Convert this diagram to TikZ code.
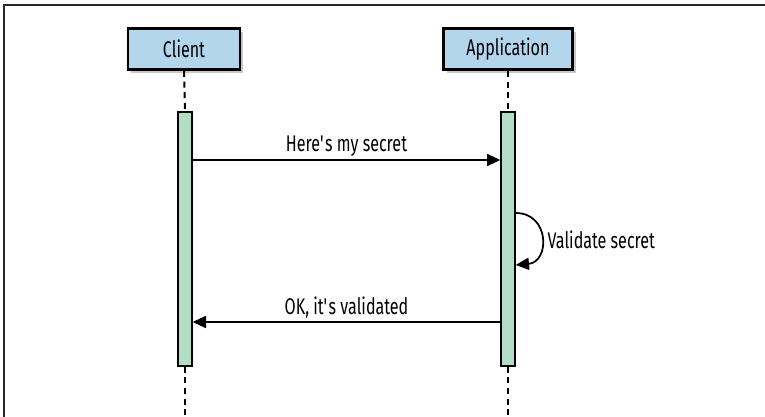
\documentclass[tikz,border=0pt]{standalone}
\usepackage{fontspec}
\setmainfont[FakeStretch=0.71]{Fira Sans}
\usetikzlibrary{arrows.meta,shadows}
\definecolor{actorblue}{RGB}{180,214,236}
\definecolor{barGreen}{RGB}{178,222,199}
\definecolor{frameGray}{RGB}{40,40,40}
\tikzset{
  actor/.style={draw=black, line width=1.8pt, fill=actorblue, minimum width=84pt, minimum height=31pt,
    inner sep=0pt, font=\fontsize{17}{19}\selectfont,
    drop shadow={shadow xshift=2.5pt, shadow yshift=-2.5pt, opacity=0.22, fill=black}},
  lifebar/.style={draw=black, line width=1.5pt, fill=barGreen, minimum width=10pt, inner sep=0pt},
  lifeline/.style={line width=1.5pt, dash pattern=on 4.5pt off 3.5pt},
  msg/.style={line width=1.3pt, -{Triangle[length=10pt,width=9pt]}},
  msglabel/.style={font=\fontsize{17}{19}\selectfont, inner sep=1pt}
}
\begin{document}
\begin{tikzpicture}[x=0.75pt, y=-0.75pt]
\useasboundingbox (0,0) rectangle (765,417);
% outer frame (top and left edges)
\draw[frameGray, line width=1.6pt] (4,417) -- (4,5) -- (765,5);
% participants
\node[actor] (client) at (184,49) {Client};
\node[actor, minimum width=97pt] (app) at (508,49) {Application};
% activation bars
\node[lifebar, minimum height=190pt] (cbar) at (185,239) {};
\node[lifebar, minimum height=190pt] (abar) at (508,239) {};
% bottom ends of the lifelines
\coordinate (cend) at (185,417);
\coordinate (aend) at (508,417);
% lifelines
\draw[lifeline] (client.south) -- (cbar.north);
\draw[lifeline] (app.south) -- (abar.north);
\draw[lifeline] (cbar.south) -- (cend);
\draw[lifeline] (abar.south) -- (aend);
% messages
\draw[msg] (cbar.east |- 0,160) -- node[msglabel, above=1pt] {Here\textquotesingle s my secret} (abar.west |- 0,160);
\coordinate (vs) at (abar.east |- 0,213);
\coordinate (ve) at (abar.east |- 0,265);
\draw[msg] (vs) .. controls (550,213) and (550,262) .. (ve);
\node[msglabel, anchor=west] (vlabel) at (546,240) {Validate secret};
\draw[msg] (abar.west |- 0,322) -- node[msglabel, above=1pt] {OK, it\textquotesingle s validated} (cbar.east |- 0,322);
\end{tikzpicture}
\end{document}
